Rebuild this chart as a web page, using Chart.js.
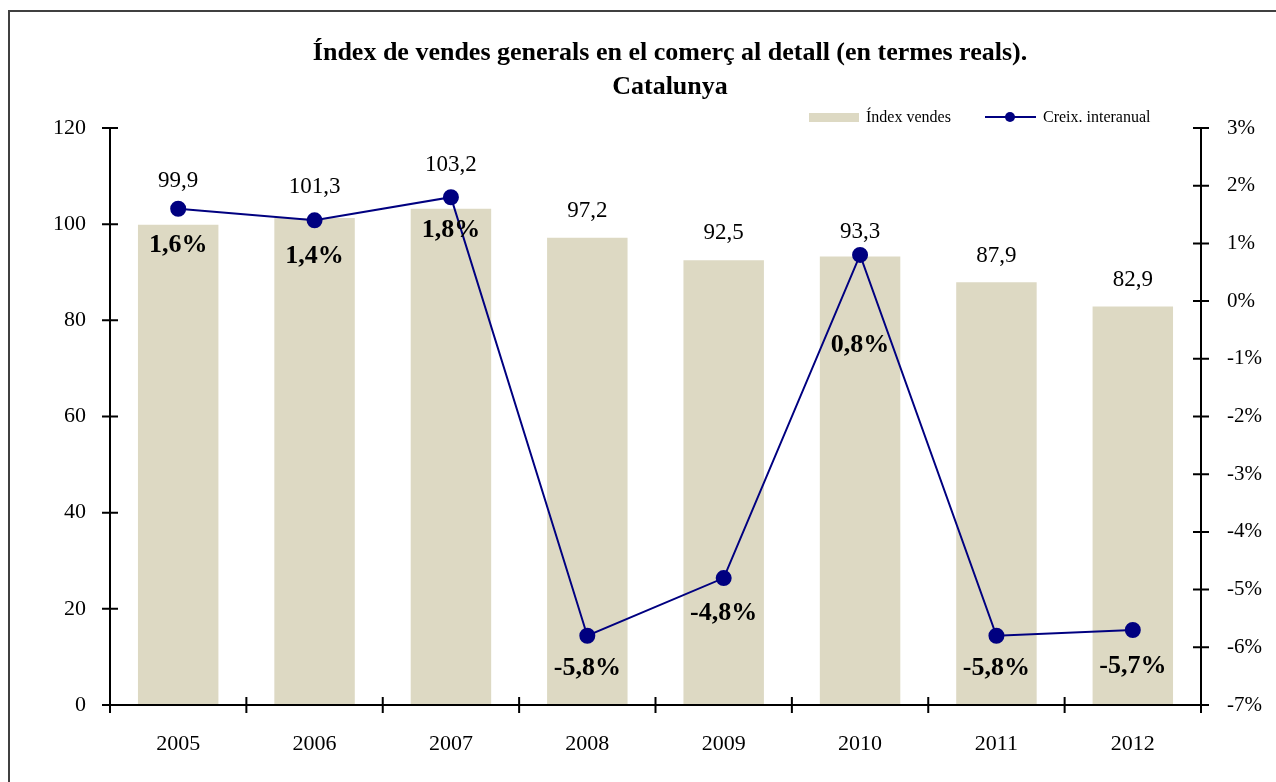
<!DOCTYPE html>
<html>
<head>
<meta charset="utf-8">
<script src="https://cdn.jsdelivr.net/npm/chart.js@4"></script>
<style>
  html, body { margin: 0; padding: 0; background: #fff; }
  #wrap { width: 1276px; height: 782px; position: relative; }
</style>
</head>
<body>
<div id="wrap"><canvas id="grafic" width="1276" height="782"></canvas></div>
<script>
const anys = ["2005", "2006", "2007", "2008", "2009", "2010", "2011", "2012"];
const indexVendes = [99.9, 101.3, 103.2, 97.2, 92.5, 93.3, 87.9, 82.9];
const creixInteranual = [1.6, 1.4, 1.8, -5.8, -4.8, 0.8, -5.8, -5.7];
const ticksEsquerra = [0, 20, 40, 60, 80, 100, 120];
const ticksDreta = [-7, -6, -5, -4, -3, -2, -1, 0, 1, 2, 3];

// distancia de les etiquetes respecte de la marca
const offsetVendes = [44, 31, 44, 27, 27, 24, 26, 26];
const offsetCreix = [37, 36, 33, 33, 35, 90, 33, 36];

const serif = "'Liberation Serif', 'Times New Roman', serif";
const colorBarra = "#DDD9C3";
const colorLinia = "#000080";

const fmt = (v, d) => v.toFixed(d).replace(".", ",");

const decoracio = {
    id: "decoracio",
    beforeDraw(chart) {
        const c = chart.ctx;
        c.save();
        c.fillStyle = "#fff";
        c.fillRect(0, 0, chart.width, chart.height);
        c.strokeStyle = "#404040";
        c.lineWidth = 2;
        c.strokeRect(9, 11, 1400, 900);
        c.restore();
    },
    afterDraw(chart) {
        const c = chart.ctx;
        const { left, right, top, bottom } = chart.chartArea;
        const yL = chart.scales.y;
        const yR = chart.scales.y1;
        const x = chart.scales.x;
        c.save();
        c.strokeStyle = "#000";
        c.lineWidth = 2;
        c.beginPath();
        c.moveTo(left, top); c.lineTo(left, bottom);
        c.moveTo(right, top); c.lineTo(right, bottom);
        c.moveTo(left - 8, bottom); c.lineTo(right + 8, bottom);
        ticksEsquerra.forEach(v => {
            const py = yL.getPixelForValue(v);
            c.moveTo(left - 8, py); c.lineTo(left + 8, py);
        });
        ticksDreta.forEach(v => {
            const py = yR.getPixelForValue(v);
            c.moveTo(right - 8, py); c.lineTo(right + 8, py);
        });
        const w = (x.getPixelForValue(1) - x.getPixelForValue(0));
        for (let i = 0; i <= anys.length; i++) {
            const px = x.getPixelForValue(0) - w / 2 + i * w;
            c.moveTo(px, bottom - 8); c.lineTo(px, bottom + 8);
        }
        c.stroke();

        // titol
        c.fillStyle = "#000";
        c.textAlign = "center";
        c.textBaseline = "middle";
        c.font = "bold 26px " + serif;
        c.fillText("Índex de vendes generals en el comerç al detall (en termes reals).", 670, 53);
        c.fillText("Catalunya", 670, 87);

        // llegenda
        c.fillStyle = colorBarra;
        c.fillRect(809, 113, 50, 9);
        c.fillStyle = "#000";
        c.textAlign = "left";
        c.font = "16px " + serif;
        c.fillText("Índex vendes", 866, 118);
        c.strokeStyle = colorLinia;
        c.lineWidth = 2;
        c.beginPath();
        c.moveTo(985, 117); c.lineTo(1036, 117);
        c.stroke();
        c.fillStyle = colorLinia;
        c.beginPath();
        c.arc(1010, 117, 5, 0, Math.PI * 2);
        c.fill();
        c.fillStyle = "#000";
        c.fillText("Creix. interanual", 1043, 118);
        c.restore();
    },
    afterDatasetsDraw(chart) {
        const c = chart.ctx;
        const barres = chart.getDatasetMeta(1).data;
        const punts = chart.getDatasetMeta(0).data;
        c.save();
        c.fillStyle = "#000";
        c.textAlign = "center";
        c.textBaseline = "middle";
        c.font = "23px " + serif;
        barres.forEach((b, i) => {
            c.fillText(fmt(indexVendes[i], 1), b.x, b.y - offsetVendes[i]);
        });
        c.font = "bold 26px " + serif;
        punts.forEach((p, i) => {
            c.fillText(fmt(creixInteranual[i], 1) + "%", p.x, p.y + offsetCreix[i]);
        });
        c.restore();
    }
};

const ctx = document.getElementById("grafic").getContext("2d");
new Chart(ctx, {
    data: {
        labels: anys,
        datasets: [
            {
                type: "line",
                label: "Creix. interanual",
                data: creixInteranual,
                yAxisID: "y1",
                borderColor: colorLinia,
                backgroundColor: colorLinia,
                borderWidth: 2,
                pointRadius: 7,
                pointHoverRadius: 7,
                tension: 0,
                order: 0,
            },
            {
                type: "bar",
                label: "Índex vendes",
                data: indexVendes,
                yAxisID: "y",
                backgroundColor: colorBarra,
                barPercentage: 0.59,
                categoryPercentage: 1,
                order: 1,
            },
        ],
    },
    options: {
        responsive: false,
        animation: false,
        events: [],
        layout: { padding: { top: 128, left: 0, right: 0, bottom: 0 } },
        plugins: {
            legend: { display: false },
            title: { display: false },
            tooltip: { enabled: false },
        },
        scales: {
            x: {
                offset: true,
                grid: { display: false, drawTicks: false },
                border: { display: false },
                ticks: { color: "#000", font: { family: serif, size: 22 }, padding: 26, maxRotation: 0 },
                afterFit(s) { s.height = 77; },
            },
            y: {
                position: "left",
                min: 0,
                max: 120,
                grid: { display: false, drawTicks: false },
                border: { display: false },
                ticks: { stepSize: 20, color: "#000", font: { family: serif, size: 22 }, padding: 24 },
                afterFit(s) { s.width = 110; },
            },
            y1: {
                position: "right",
                min: -7,
                max: 3,
                grid: { display: false, drawTicks: false },
                border: { display: false },
                ticks: {
                    stepSize: 1,
                    color: "#000",
                    font: { family: serif, size: 21 },
                    padding: 26,
                    callback: v => v + "%",
                },
                afterFit(s) { s.width = 75; },
            },
        },
    },
    plugins: [decoracio],
});
</script>
</body>
</html>
